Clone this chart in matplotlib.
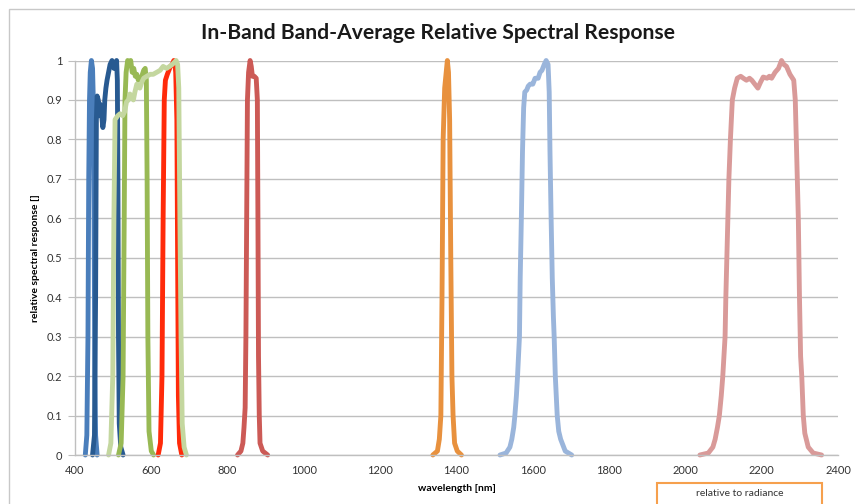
import matplotlib
matplotlib.use("Agg")
import matplotlib.pyplot as plt
from matplotlib.patches import Rectangle

plt.rcParams['font.family'] = ['Lato', 'DejaVu Sans']

# band responses (wavelength nm, relative response)
pan_wl = [488, 494, 499, 502, 505, 512, 518, 525, 530, 535, 540, 544, 548, 553, 557, 562, 566, 570,
          575, 580, 588, 597, 605, 614, 623, 631, 640, 648, 655, 660, 665, 669, 672, 675, 678, 681, 686, 692]
pan_rsr = [0, 0.03, 0.2, 0.6, 0.85, 0.86, 0.865, 0.86, 0.87, 0.895, 0.9, 0.915, 0.91, 0.9, 0.92, 0.94, 0.935, 0.93,
           0.945, 0.955, 0.96, 0.965, 0.965, 0.97, 0.975, 0.985, 0.98, 0.985, 0.99, 0.995, 1.0, 0.99, 0.93, 0.6, 0.3, 0.08, 0.02, 0]

ca_wl = [427, 431, 434, 436, 438, 440, 443, 446, 448, 450, 452, 454, 458]
ca_rsr = [0, 0.05, 0.3, 0.7, 0.9, 0.97, 1.0, 0.98, 0.9, 0.6, 0.2, 0.05, 0]

blue_wl = [446, 451, 454, 456, 458, 461, 463, 465, 467, 470, 473, 476, 478, 481, 484, 488, 492, 497,
           502, 506, 509, 511, 512.5, 514, 516, 520, 526]
blue_rsr = [0, 0.05, 0.4, 0.85, 0.91, 0.9, 0.86, 0.89, 0.88, 0.86, 0.83, 0.85, 0.9, 0.93, 0.95, 0.97, 0.99, 1.0,
            0.98, 0.99, 1.0, 0.95, 0.7, 0.3, 0.08, 0.02, 0]

green_wl = [514, 521, 526, 529, 531, 534, 538, 542, 546, 550, 554, 558, 562, 566, 570, 575, 580, 584,
            587, 589, 591, 594, 600, 606]
green_rsr = [0, 0.03, 0.2, 0.6, 0.9, 0.97, 1.0, 0.99, 1.0, 0.97, 0.98, 0.96, 0.965, 0.95, 0.955, 0.96, 0.975, 0.98,
             0.95, 0.7, 0.3, 0.06, 0.01, 0]

red_wl = [618, 624, 628, 631, 634, 637, 642, 646, 650, 655, 659, 662, 664, 667, 669, 671, 674, 680]
red_rsr = [0, 0.03, 0.2, 0.6, 0.9, 0.95, 0.965, 0.975, 0.985, 0.99, 1.0, 0.99, 0.97, 0.85, 0.5, 0.15, 0.03, 0]

nir_wl = [826, 835, 840, 843, 846, 848, 850, 852, 855, 859, 862, 865, 870, 875, 878, 879.5, 881, 883, 885, 892, 905]
nir_rsr = [0, 0.01, 0.03, 0.07, 0.12, 0.3, 0.6, 0.9, 0.97, 1.0, 0.985, 0.96, 0.96, 0.955, 0.9, 0.6, 0.25, 0.1, 0.03, 0.01, 0]

cirrus_wl = [1338, 1350, 1355, 1359, 1362, 1365, 1369, 1373, 1376, 1379, 1382, 1385, 1388, 1391, 1395, 1402, 1413]
cirrus_rsr = [0, 0.01, 0.04, 0.1, 0.4, 0.8, 0.93, 0.97, 1.0, 0.97, 0.85, 0.5, 0.2, 0.1, 0.03, 0.01, 0]

swir1_wl = [1514, 1530, 1540, 1545, 1550, 1553, 1557, 1560, 1565, 1567, 1570, 1573, 1576, 1579, 1584, 1588,
            1593, 1600, 1606, 1614, 1619, 1624, 1630, 1635, 1640, 1643, 1645, 1648, 1651, 1654, 1656, 1659,
            1664, 1668, 1673, 1685, 1702]
swir1_rsr = [0, 0.005, 0.02, 0.04, 0.07, 0.1, 0.15, 0.2, 0.3, 0.45, 0.6, 0.77, 0.88, 0.92, 0.925, 0.935,
             0.94, 0.94, 0.955, 0.955, 0.97, 0.975, 0.99, 1.0, 0.99, 0.92, 0.77, 0.6, 0.45, 0.35, 0.3, 0.2,
             0.1, 0.06, 0.04, 0.01, 0]

swir2_wl = [2038, 2060, 2072, 2078, 2084, 2089, 2094, 2098, 2104, 2106, 2110, 2114, 2118, 2123, 2129, 2136,
            2145, 2152, 2160, 2168, 2174, 2182, 2190, 2197, 2204, 2214, 2220, 2226, 2235, 2244, 2252, 2258,
            2265, 2274, 2284, 2288, 2292, 2296, 2299, 2302, 2305, 2309, 2313, 2322, 2335, 2357]
swir2_rsr = [0, 0.005, 0.02, 0.04, 0.07, 0.1, 0.15, 0.2, 0.3, 0.4, 0.55, 0.7, 0.8, 0.9, 0.93, 0.955,
             0.96, 0.955, 0.95, 0.955, 0.95, 0.94, 0.93, 0.945, 0.958, 0.955, 0.96, 0.955, 0.97, 0.98, 1.0, 0.99,
             0.985, 0.965, 0.95, 0.9, 0.75, 0.6, 0.4, 0.25, 0.2, 0.1, 0.055, 0.02, 0.005, 0]

bands = [
    (ca_wl, ca_rsr, '#4a7ebb'),
    (blue_wl, blue_rsr, '#285a91'),
    (green_wl, green_rsr, '#98b954'),
    (red_wl, red_rsr, '#ff2a0a'),
    (pan_wl, pan_rsr, '#c4d79f'),
    (nir_wl, nir_rsr, '#cc5a56'),
    (cirrus_wl, cirrus_rsr, '#e8913e'),
    (swir1_wl, swir1_rsr, '#9ab5db'),
    (swir2_wl, swir2_rsr, '#d99a99'),
]

x_ticks = list(range(400, 2401, 200))
y_ticks = [i / 10 for i in range(11)]
y_labels = ['0'] + ['0.%d' % i for i in range(1, 10)] + ['1']

fig = plt.figure(figsize=(8.55, 5.04), dpi=100)
ax = fig.add_axes([75 / 855, 1 - 455 / 504, (838 - 75) / 855, (455 - 60.5) / 504])

for wl, rsr, col in bands:
    ax.plot(wl, rsr, color=col, lw=3.5, solid_joinstyle='round', solid_capstyle='round', clip_on=False)

ax.set_xlim(400, 2400)
ax.set_ylim(0, 1)
ax.set_xticks(x_ticks)
ax.set_yticks(y_ticks)
ax.set_yticklabels(y_labels)
ax.grid(axis='y', color='#bfbfbf', lw=1)
ax.set_axisbelow(True)
for s in ['top', 'right']:
    ax.spines[s].set_visible(False)
for s in ['left', 'bottom']:
    ax.spines[s].set_color('#bfbfbf')
    ax.spines[s].set_linewidth(1)
ax.tick_params(axis='y', length=5, color='#bfbfbf', labelsize=8, labelcolor='#333333', pad=4)
ax.tick_params(axis='x', length=0, labelsize=8, labelcolor='#333333', pad=7)

ax.set_xlabel('wavelength [nm]', fontsize=7.5, fontweight='bold', labelpad=6)
ax.set_ylabel('relative spectral response []', fontsize=7.5, fontweight='bold', labelpad=5)

fig.text(438 / 855, 1 - 33 / 504, 'In-Band Band-Average Relative Spectral Response',
         ha='center', va='center', fontsize=15.2, fontweight='bold', color='#1a1a1a')

# outer chart border (cropped on the right and bottom)
fig.patches.append(Rectangle((9 / 855, -0.2), 1.2, 1.2 - 9 / 504, transform=fig.transFigure,
                             fill=False, edgecolor='#c8c8c8', lw=1))
# orange note box at the bottom
fig.patches.append(Rectangle((657 / 855, -0.05), (822 - 657) / 855, 0.05 + 1 - 483 / 504,
                             transform=fig.transFigure, fill=False, edgecolor='#f6a04d', lw=1.5))
fig.text(740 / 855, 1 - 493 / 504, 'relative to radiance', ha='center', va='center', fontsize=7.5, color='#333333')

fig.savefig('out.png', dpi=100)
